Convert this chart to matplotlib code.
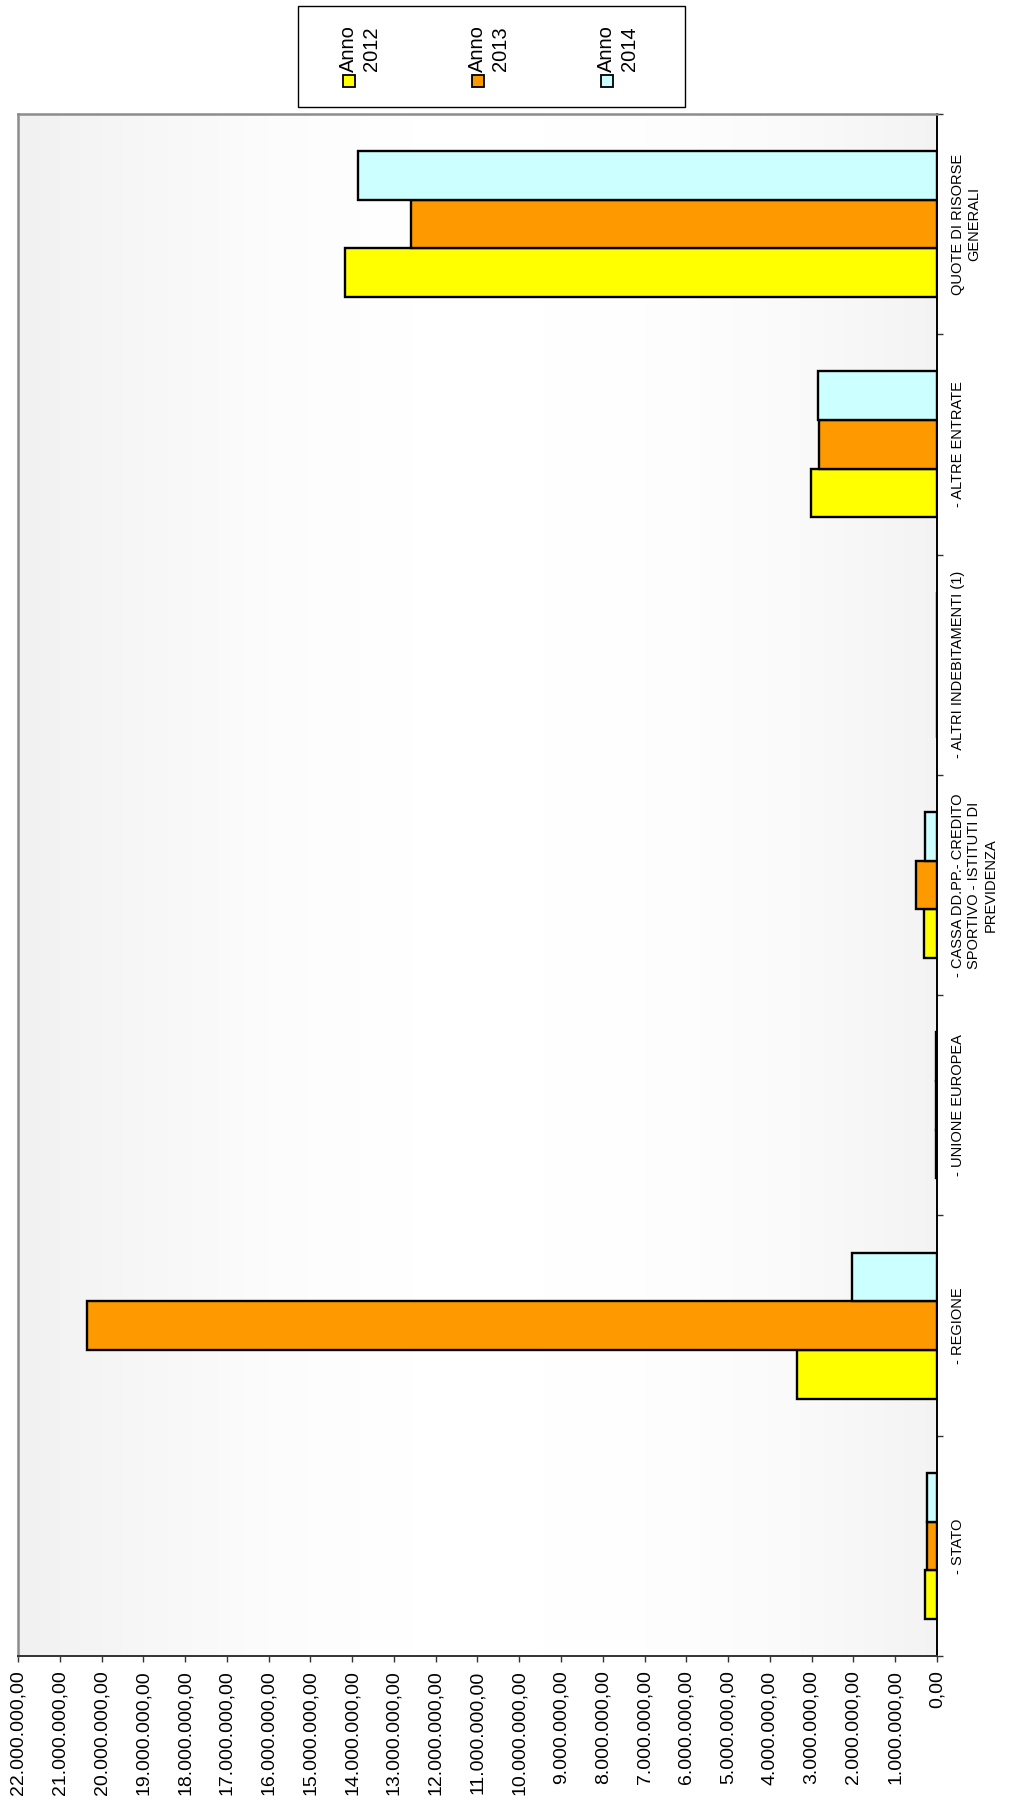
import numpy as np
import matplotlib
matplotlib.use("Agg")
import matplotlib.pyplot as plt
from matplotlib.patches import Rectangle
from matplotlib.ticker import FuncFormatter, MultipleLocator

plt.rcParams['font.family'] = ['Liberation Sans', 'DejaVu Sans']

categories = ["- STATO", "- REGIONE", "- UNIONE EUROPEA",
              "- CASSA DD.PP.- CREDITO\nSPORTIVO - ISTITUTI DI\nPREVIDENZA",
              "- ALTRI INDEBITAMENTI (1)", "- ALTRE ENTRATE",
              "QUOTE DI RISORSE\nGENERALI"]
series_names = ["Anno\n2012", "Anno\n2013", "Anno\n2014"]
v2012 = [290000, 3340000, 15000, 310000, 0, 3020000, 14170000]
v2013 = [240000, 20340000, 15000, 500000, 0, 2830000, 12590000]
v2014 = [240000, 2030000, 15000, 290000, 0, 2840000, 13850000]
colors = ["#FFFF00", "#FF9900", "#CCFFFF"]

W, H = 1012, 1820
fig = plt.figure(figsize=(W / 100, H / 100), dpi=100)
L, R, T, B = 18, 937, 114, 1656
ax = fig.add_axes([L / W, 1 - B / H, (R - L) / W, (B - T) / H])

# background gradient
grad = np.array([0.945, 0.97, 0.99, 1.0, 1.0, 0.995, 0.98, 0.955])
xs = np.linspace(0, 1, 400)
g = np.interp(xs, np.linspace(0, 1, len(grad)), grad)
img = np.tile(g, (10, 1))
ax.imshow(np.dstack([img, img, img]), extent=[0, 1, 0, 1], transform=ax.transAxes,
          aspect='auto', zorder=0)

y = np.arange(len(categories))
bw = 0.221
for k, (vals, c) in enumerate(zip([v2012, v2013, v2014], colors)):
    ax.barh(y + (k - 1) * bw, vals, height=bw, color=c, edgecolor='black',
            linewidth=1.7, zorder=3)

ax.set_xlim(22000000, 0)
ax.set_ylim(-0.5, len(categories) - 0.5)
ax.xaxis.set_major_locator(MultipleLocator(1000000))

def fmt(v, pos):
    s = f"{v:,.2f}"
    return s.replace(",", "X").replace(".", ",").replace("X", ".")

ax.xaxis.set_major_formatter(FuncFormatter(fmt))
ax.tick_params(axis='x', which='major', direction='out', length=4.5, width=1,
               color='#333333', labelsize=14, pad=6, labelrotation=90)

ax.yaxis.tick_right()
ax.set_yticks(y)
ax.set_yticklabels(categories, rotation=90, ha='left', va='center',
                   multialignment='center', fontsize=10.5)
ax.set_yticks(np.arange(len(categories) + 1) - 0.5, minor=True)
ax.tick_params(axis='y', which='major', length=0, pad=10)
ax.tick_params(axis='y', which='minor', direction='out', length=4, width=1,
               color='#333333')

for s in ['left', 'top']:
    ax.spines[s].set_color('#8c8c8c')
    ax.spines[s].set_linewidth(1.8)
ax.spines['right'].set_color('black')
ax.spines['right'].set_linewidth(1.4)
ax.spines['bottom'].set_color('#333333')
ax.spines['bottom'].set_linewidth(1.4)

# legend (rotated), drawn in figure pixel space
def fx(px):
    return px / W

def fy(py):
    return 1 - py / H

lx0, lx1, ly0, ly1 = 298, 685, 6, 107
fig.patches.append(Rectangle((fx(lx0), fy(ly1)), fx(lx1) - fx(lx0), fy(ly0) - fy(ly1),
                             transform=fig.transFigure, facecolor='white',
                             edgecolor='black', linewidth=1.0))
for k, (name, c) in enumerate(zip(series_names, colors)):
    cx = 349 + k * 129
    fig.patches.append(Rectangle((fx(cx - 6), fy(87)), 12 / W, 12 / H,
                                 transform=fig.transFigure, facecolor=c,
                                 edgecolor='black', linewidth=1.3))
    fig.text(fx(cx - 10), fy(72), name, rotation=90, ha='left', va='bottom',
             multialignment='center', fontsize=14.5, linespacing=1.25)

fig.savefig("out.png", dpi=100)
